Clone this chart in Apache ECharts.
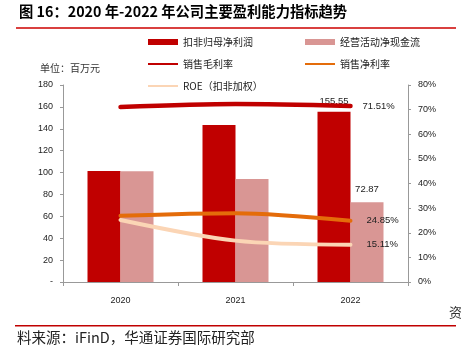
<!DOCTYPE html>
<html><head><meta charset="utf-8">
<script src="https://cdn.jsdelivr.net/npm/echarts@6/dist/echarts.min.js"></script>
<style>html,body{margin:0;padding:0;background:#fff}#c{width:461px;height:355px}</style>
</head><body><div id="c"></div>
<script>
const categories = ['2020', '2021', '2022'];
const netProfitDeducted = [101.4, 143.5, 155.55];
const operatingCashFlow = [101.2, 94.0, 72.87];
const grossMargin = [71.1, 72.3, 71.51];
const netMargin = [26.9, 27.9, 24.85];
const roeDeducted = [25.2, 16.8, 15.11];
const leftTicks = [0, 20, 40, 60, 80, 100, 120, 140, 160, 180];
const rightTicks = [0, 10, 20, 30, 40, 50, 60, 70, 80];

const FONT = '"Noto Sans CJK SC", "Noto Sans", sans-serif';
const NUMF = '"Liberation Sans", "Noto Sans", sans-serif';
const last = categories.length - 1;
function lastLabel(arr, label) {
  return arr.map((v, i) => i === last ? { value: v, label: label } : v);
}
function endLbl(dist) {
  return { show: true, distance: dist, fontSize: 9.5, color: '#222', fontFamily: NUMF,
    formatter: p => Number(p.value).toFixed(2) + '%' };
}
const chart = echarts.init(document.getElementById('c'), null, { renderer: 'canvas' });
const legendText = { fontSize: 10, color: '#222', fontFamily: FONT };
function lg(name, left, top, icon, h) {
  return { data: [{ name: name, icon: icon }], left: left, top: top, itemWidth: 30, itemHeight: h,
    textStyle: legendText, padding: 0, itemGap: 5, selectedMode: false };
}
chart.setOption({
  animation: false,
  textStyle: { fontFamily: FONT },
  graphic: [
    { type: 'text', left: 19, top: 4, style: { text: '图 16：2020 年-2022 年公司主要盈利能力指标趋势', font: 'bold 14.3px ' + FONT, fill: '#000' } },
    { type: 'rect', shape: { x: 16, y: 27, width: 440, height: 2 }, style: { fill: '#D9403F' } },
    { type: 'text', left: 40, top: 63, style: { text: '单位：百万元', font: '10px ' + FONT, fill: '#333' } },
    { type: 'text', left: 449, top: 306, style: { text: '资', font: '13px ' + FONT, fill: '#333' } },
    { type: 'rect', shape: { x: 15, y: 325, width: 441, height: 1.5 }, style: { fill: '#C00000' } },
    { type: 'text', left: 17, top: 330, style: { text: '料来源：iFinD，华通证券国际研究部', font: '14.5px ' + FONT, fill: '#222' } }
  ],
  legend: [
    lg('扣非归母净利润', 148, 37, 'rect', 6),
    lg('经营活动净现金流', 305, 37, 'rect', 6),
    lg('销售毛利率', 148, 59, 'rect', 2),
    lg('销售净利率', 305, 59, 'rect', 2),
    lg('ROE（扣非加权）', 148, 81, 'rect', 2)
  ],
  grid: { left: 63, right: 53, top: 85, bottom: 73 },
  xAxis: {
    type: 'category', data: categories,
    axisLine: { lineStyle: { color: '#999', width: 1 } },
    axisTick: { show: true, length: 4, lineStyle: { color: '#999' } },
    axisLabel: { fontSize: 9, color: '#222', fontFamily: NUMF, margin: 14 }
  },
  yAxis: [
    { type: 'value', min: 0, max: 180, interval: 20, splitLine: { show: false },
      axisLine: { show: true, lineStyle: { color: '#999' } },
      axisTick: { show: true, length: 3, lineStyle: { color: '#999' } },
      axisLabel: { fontSize: 9, color: '#222', fontFamily: NUMF, margin: 10,
        formatter: v => v === 0 ? '-' : String(v) } },
    { type: 'value', min: 0, max: 80, interval: 10, splitLine: { show: false },
      axisLine: { show: true, lineStyle: { color: '#999' } },
      axisTick: { show: true, length: 3, lineStyle: { color: '#999' } },
      axisLabel: { fontSize: 9, color: '#222', fontFamily: NUMF, margin: 10, formatter: '{value}%' } }
  ],
  series: [
    { name: '扣非归母净利润', type: 'bar', data: lastLabel(netProfitDeducted, { show: true, position: 'top', distance: 5, fontSize: 9.5, color: '#222', fontFamily: NUMF, formatter: p => p.value.toFixed(2) }),
      barWidth: 33, barGap: '0%', itemStyle: { color: '#C00000' } },
    { name: '经营活动净现金流', type: 'bar', data: lastLabel(operatingCashFlow, { show: true, position: 'top', distance: 8, fontSize: 9.5, color: '#222', fontFamily: NUMF, formatter: p => p.value.toFixed(2) }),
      barWidth: 33, barGap: '0%', itemStyle: { color: '#D99694' } },
    { name: '销售毛利率', type: 'line', yAxisIndex: 1, smooth: 0.3, symbol: 'none', showSymbol: false,
      lineStyle: { color: '#C00000', width: 4.5, cap: 'round' }, itemStyle: { color: '#C00000' },
      endLabel: endLbl(12), data: grossMargin },
    { name: '销售净利率', type: 'line', yAxisIndex: 1, smooth: 0.3, symbol: 'none', showSymbol: false,
      lineStyle: { color: '#E46C0A', width: 4, cap: 'round' }, itemStyle: { color: '#E46C0A' },
      endLabel: endLbl(16), data: netMargin },
    { name: 'ROE（扣非加权）', type: 'line', yAxisIndex: 1, smooth: 0.3, symbol: 'none', showSymbol: false,
      lineStyle: { color: '#FBD5B5', width: 4, cap: 'round' }, itemStyle: { color: '#FBD5B5' },
      endLabel: endLbl(16), data: roeDeducted }
  ]
});
</script></body></html>
